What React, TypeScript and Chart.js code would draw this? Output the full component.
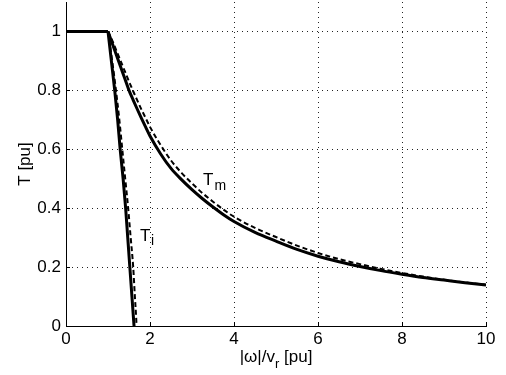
import React, { useEffect, useRef } from "react";
import { Chart, registerables } from "chart.js";

Chart.register(...registerables);

const xTicks = [0, 2, 4, 6, 8, 10];
const yTicks = [0, 0.2, 0.4, 0.6, 0.8, 1];

const flatX = [0, 1];
const flatY = [1, 1];

const tmSolidX = [1, 1.1, 1.2, 1.3, 1.4, 1.5, 1.6, 1.7, 1.8, 1.9, 2, 2.25, 2.5, 2.75, 3, 3.25, 3.5, 3.75, 4, 4.5, 5, 5.5, 6, 6.5, 7, 7.5, 8, 8.5, 9, 9.5, 10];
const tmSolidY = [1, 0.96, 0.92, 0.88, 0.84, 0.8, 0.767, 0.735, 0.704, 0.674, 0.645, 0.585, 0.535, 0.497, 0.463, 0.432, 0.404, 0.378, 0.355, 0.318, 0.288, 0.26, 0.237, 0.218, 0.202, 0.188, 0.176, 0.165, 0.156, 0.147, 0.139];

const tmDashX = [1, 1.1, 1.2, 1.3, 1.4, 1.5, 1.6, 1.7, 1.8, 1.9, 2, 2.25, 2.5, 2.75, 3, 3.25, 3.5, 3.75, 4, 4.5, 5, 5.5, 6, 6.5, 7, 7.5, 8, 8.5, 9, 9.5, 10];
const tmDashY = [1, 0.97, 0.935, 0.9, 0.865, 0.83, 0.797, 0.765, 0.734, 0.705, 0.676, 0.615, 0.562, 0.52, 0.484, 0.451, 0.422, 0.395, 0.371, 0.333, 0.302, 0.273, 0.248, 0.227, 0.21, 0.194, 0.18, 0.168, 0.157, 0.148, 0.14];

const tiSolidX = [1, 1.08, 1.16, 1.23, 1.29, 1.36, 1.42, 1.47, 1.52, 1.57, 1.605, 1.62];
const tiSolidY = [1, 0.9, 0.8, 0.7, 0.6, 0.5, 0.4, 0.3, 0.2, 0.1, 0.03, 0];

const tiDashX = [1, 1.1, 1.19, 1.27, 1.34, 1.41, 1.48, 1.54, 1.6, 1.64, 1.67, 1.68];
const tiDashY = [1, 0.9, 0.8, 0.7, 0.6, 0.5, 0.4, 0.3, 0.2, 0.1, 0.03, 0];

const FONT = "'Liberation Sans', Arial, sans-serif";

const pts = (xs: number[], ys: number[]) => xs.map((x, i) => ({ x, y: ys[i] }));

const textPlugin = {
  id: "customText",
  afterDraw(chart: any) {
    const ctx = chart.ctx;
    const xs = chart.scales.x;
    const ys = chart.scales.y;
    const area = chart.chartArea;
    ctx.save();
    ctx.strokeStyle = "#000";
    ctx.lineWidth = 1;
    ctx.beginPath();
    xTicks.forEach((v) => {
      const px = Math.round(xs.getPixelForValue(v)) + 0.5;
      ctx.moveTo(px, area.bottom);
      ctx.lineTo(px, area.bottom - 4);
    });
    yTicks.forEach((v) => {
      const py = Math.round(ys.getPixelForValue(v)) + 0.5;
      ctx.moveTo(area.left, py);
      ctx.lineTo(area.left + 4, py);
    });
    ctx.stroke();

    ctx.fillStyle = "#000";
    ctx.save();
    ctx.translate(25, 164);
    ctx.rotate(-Math.PI / 2);
    ctx.font = `17px ${FONT}`;
    ctx.textAlign = "center";
    ctx.textBaseline = "middle";
    ctx.fillText("T [pu]", 0, 0);
    ctx.restore();

    ctx.textAlign = "left";
    ctx.textBaseline = "alphabetic";
    const big = `17px ${FONT}`;
    const small = `13px ${FONT}`;
    ctx.font = big;
    const p1 = "|ω|/v";
    const w1 = ctx.measureText(p1).width;
    ctx.font = small;
    const w2 = ctx.measureText("r").width;
    ctx.font = big;
    const p3 = " [pu]";
    const w3 = ctx.measureText(p3).width;
    let sx = 276 - (w1 + w2 + w3) / 2;
    ctx.fillText(p1, sx, 362);
    sx += w1;
    ctx.font = small;
    ctx.fillText("r", sx, 368);
    sx += w2;
    ctx.font = big;
    ctx.fillText(p3, sx, 362);

    ctx.font = big;
    ctx.fillText("T", 203, 185);
    const wt = ctx.measureText("T").width;
    ctx.font = `14px ${FONT}`;
    ctx.fillText("m", 203 + wt + 1, 190);

    ctx.font = big;
    ctx.fillText("T", 140, 241);
    ctx.font = `14px ${FONT}`;
    ctx.fillText("i", 140 + wt + 0.5, 245);
    ctx.restore();
  },
};

export default function App() {
  const ref = useRef<HTMLCanvasElement>(null);
  useEffect(() => {
    const canvas = ref.current;
    if (!canvas) return;
    const solid = { borderColor: "#000", borderWidth: 3, pointRadius: 0, showLine: true, fill: false, cubicInterpolationMode: "monotone" };
    const dashed = { borderColor: "#000", borderWidth: 2, borderDash: [5, 3], pointRadius: 0, showLine: true, fill: false, cubicInterpolationMode: "monotone" };
    const chart = new Chart(canvas, {
      type: "scatter",
      data: {
        datasets: [
          { ...dashed, label: "Tm est", data: pts(tmDashX, tmDashY) },
          { ...dashed, label: "Ti est", data: pts(tiDashX, tiDashY) },
          { ...solid, label: "flat", data: pts(flatX, flatY) },
          { ...solid, label: "Tm", data: pts(tmSolidX, tmSolidY) },
          { ...solid, label: "Ti", data: pts(tiSolidX, tiSolidY) },
        ],
      },
      options: {
        animation: false,
        responsive: false,
        devicePixelRatio: 1,
        layout: { padding: { top: 2, right: 20, left: 0, bottom: 0 } },
        plugins: { legend: { display: false }, tooltip: { enabled: false } },
        scales: {
          x: {
            type: "linear",
            min: 0,
            max: 10,
            afterFit: (s: any) => { s.height = 49; s.paddingLeft = 0; s.paddingRight = 0; },
            afterBuildTicks: (s: any) => { s.ticks = xTicks.map((v) => ({ value: v })); },
            ticks: { padding: 3, color: "#000", font: { family: FONT, size: 17 }, maxRotation: 0 },
            grid: { color: "#222", lineWidth: 1, drawTicks: false },
            border: { display: true, color: "#000", width: 1, dash: [1, 4] },
          },
          y: {
            type: "linear",
            min: 0,
            max: 1.1,
            afterFit: (s: any) => { s.width = 66; s.paddingTop = 0; s.paddingBottom = 0; },
            afterBuildTicks: (s: any) => { s.ticks = yTicks.map((v) => ({ value: v })); },
            ticks: {
              padding: 5,
              color: "#000",
              font: { family: FONT, size: 17 },
              callback: (v: any) => String(Math.round(Number(v) * 10) / 10),
            },
            grid: { color: "#222", lineWidth: 1, drawTicks: false },
            border: { display: true, color: "#000", width: 1, dash: [1, 4] },
          },
        },
      } as any,
      plugins: [textPlugin],
    });
    return () => chart.destroy();
  }, []);
  return (
    <div style={{ position: "absolute", left: 0, top: 0, width: 506, height: 375, background: "#fff" }}>
      <canvas ref={ref} width={506} height={375} style={{ width: 506, height: 375, display: "block" }} />
    </div>
  );
}
